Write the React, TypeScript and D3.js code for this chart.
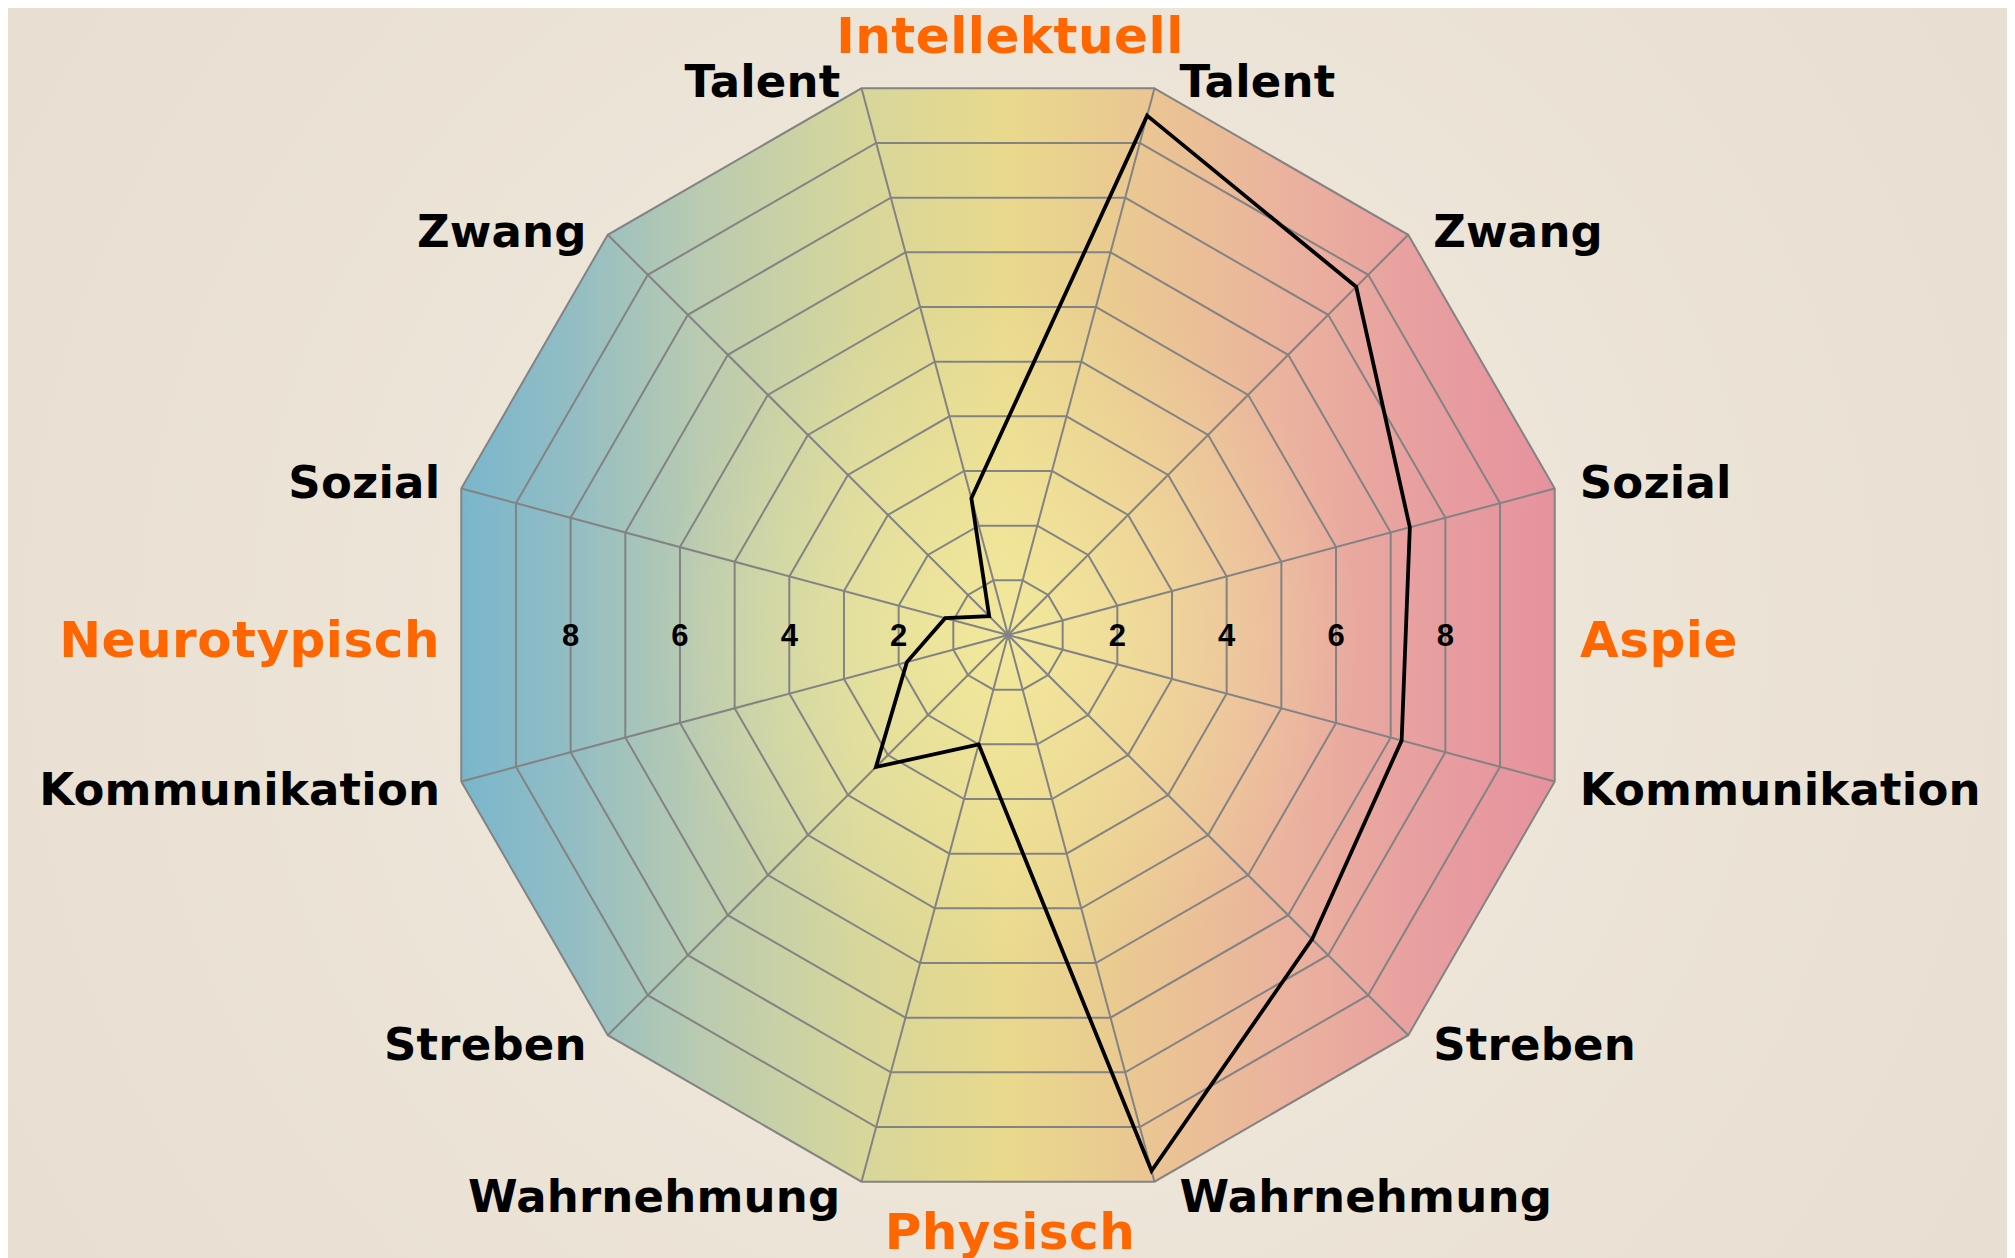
import * as d3 from "d3"

// axis labels, clockwise from the top (Aspie side first, then Neurotypisch side)
const aspieAxes = ["Talent", "Zwang", "Sozial", "Kommunikation", "Streben", "Wahrnehmung"]
const neuroAxes = ["Wahrnehmung", "Streben", "Kommunikation", "Sozial", "Zwang", "Talent"]
const aspieScores = [9.5, 8.7, 7.35, 7.2, 7.6, 9.8]
const neuroScores = [2.0, 3.3, 1.85, 1.15, 0.47, 2.5]
const ticks = [2, 4, 6, 8]
const poles = ["Intellektuell", "Aspie", "Physisch", "Neurotypisch"]

const W = 2015
const H = 1258
const cx = 1008
const cy = 635
const R = 566
const levels = d3.range(1, 11)

// label baseline offsets below each vertex (top to bottom)
const labelDy = [9, 12, 9, 24, 25, 30]

export default function App() {
  const axes = [...aspieAxes, ...neuroAxes]
  const scores = [...aspieScores, ...neuroScores]
  const angles = axes.map((_, i) => ((15 + 30 * i) * Math.PI) / 180)

  const r = d3.scaleLinear().domain([0, 10]).range([0, R])

  const ring = d3
    .lineRadial<number>()
    .angle(a => a)
    .curve(d3.curveLinearClosed)

  const ringPath = (v: number) => ring.radius(r(v))(angles) as string

  const dataLine = d3
    .lineRadial<number>()
    .angle((_, i) => angles[i])
    .radius(d => r(d))
    .curve(d3.curveLinearClosed)

  const px = (a: number, v: number) => cx + r(v) * Math.sin(a)
  const py = (a: number, v: number) => cy - r(v) * Math.cos(a)

  const labelFont = { fontFamily: "'DejaVu Sans', Verdana, sans-serif", fontWeight: 700 }
  const apothem = Math.cos(Math.PI / 12)

  return (
    <svg width={W} height={H} style={{ position: "absolute", left: 0, top: 0 }}>
      <defs>
        <radialGradient id="bg" gradientUnits="userSpaceOnUse" cx={cx} cy={cy} r={1150}>
          <stop offset="0" stopColor="#F2EBE0" />
          <stop offset="1" stopColor="#E8DED1" />
        </radialGradient>
        {/* these two live in the chart's local coords (centre = 0,0) */}
        <linearGradient id="fill" gradientUnits="userSpaceOnUse" x1={-r(10) * apothem} x2={r(10) * apothem} y1={0} y2={0}>
          <stop offset="0" stopColor="#7AB6CC" />
          <stop offset="0.1" stopColor="#92BDC4" />
          <stop offset="0.22" stopColor="#BACBB0" />
          <stop offset="0.36" stopColor="#D6D69C" />
          <stop offset="0.5" stopColor="#E9D98C" />
          <stop offset="0.62" stopColor="#EAC792" />
          <stop offset="0.75" stopColor="#EBB39E" />
          <stop offset="0.87" stopColor="#E8A0A0" />
          <stop offset="1" stopColor="#E6929E" />
        </linearGradient>
        <radialGradient id="glow" gradientUnits="userSpaceOnUse" cx={0} cy={0} r={R * 0.62}>
          <stop offset="0" stopColor="#F5EDA2" stopOpacity={0.75} />
          <stop offset="1" stopColor="#F5EDA2" stopOpacity={0} />
        </radialGradient>
      </defs>

      <rect x={8} y={8} width={1999} height={1250} fill="url(#bg)" />

      <g transform={`translate(${cx},${cy})`}>
        <path d={ringPath(10)} fill="url(#fill)" />
        <path d={ringPath(10)} fill="url(#glow)" />

        <g fill="none" stroke="#838383" strokeWidth={2}>
          {levels.map(l => (
            <path key={l} d={ringPath(l)} />
          ))}
          {angles.map((a, i) => (
            <line key={i} x1={0} y1={0} x2={r(10) * Math.sin(a)} y2={-r(10) * Math.cos(a)} />
          ))}
        </g>
      </g>

      {/* tick labels along the horizontal */}
      <g style={{ fontFamily: "'Liberation Sans Narrow', 'Liberation Sans', Arial, sans-serif", fontWeight: 700 }} fontSize={31} textAnchor="middle">
        {ticks.map(t => (
          <g key={t}>
            <text x={cx - r(t) * apothem} y={cy + 11}>{t}</text>
            <text x={cx + r(t) * apothem} y={cy + 11}>{t}</text>
          </g>
        ))}
      </g>

      <path
        d={dataLine(scores) as string}
        transform={`translate(${cx},${cy})`}
        fill="none"
        stroke="#000"
        strokeWidth={3.8}
        strokeLinejoin="miter"
      />

      {/* axis labels */}
      <g style={labelFont} fontSize={45} letterSpacing={0.2} fill="#000">
        {axes.map((name, i) => {
          const a = angles[i]
          const right = i < 6
          const k = right ? i : 11 - i
          return (
            <text
              key={i}
              x={px(a, 10) + (right ? 25 : -21)}
              y={py(a, 10) + labelDy[k]}
              textAnchor={right ? "start" : "end"}
            >
              {name}
            </text>
          )
        })}
      </g>

      {/* pole labels */}
      <g style={labelFont} fontSize={50} letterSpacing={0.5} fill="#FF6600">
        <text x={cx + 2} y={53} textAnchor="middle">{poles[0]}</text>
        <text x={cx + 572} y={657} textAnchor="start">{poles[1]}</text>
        <text x={cx + 2} y={1249} textAnchor="middle">{poles[2]}</text>
        <text x={cx - 568} y={657} textAnchor="end">{poles[3]}</text>
      </g>
    </svg>
  )
}
